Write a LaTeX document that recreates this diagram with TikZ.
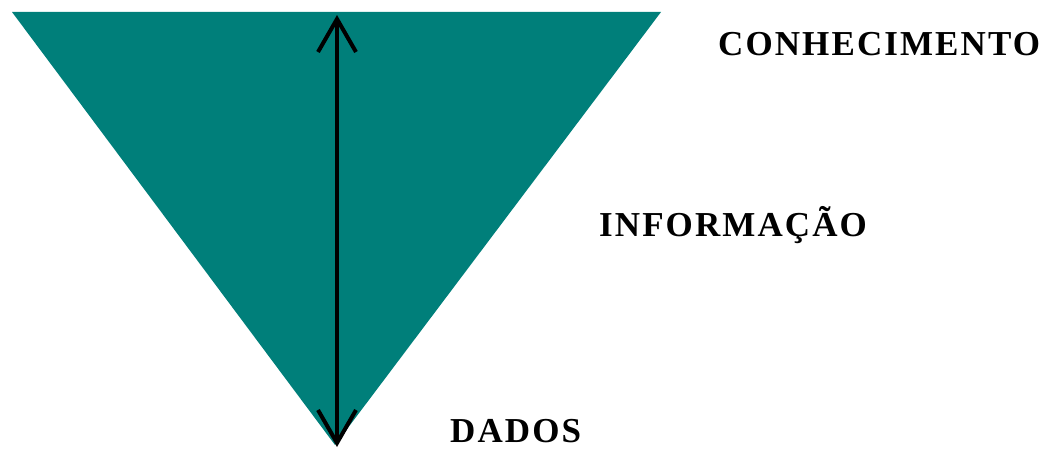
\documentclass[tikz,border=0pt]{standalone}
\usepackage{fontspec}
\setmainfont{Liberation Serif}
\newfontfamily\labelfont[LetterSpace=6]{Liberation Serif}
\usetikzlibrary{arrows.meta}
\definecolor{petrol}{RGB}{0,127,122}
\tikzset{
  nivel/.style={anchor=base west, inner sep=0pt, font=\labelfont\bfseries\fontsize{35}{35}\selectfont},
}
\begin{document}
\begin{tikzpicture}[x=1pt, y=1pt, line join=round, >={Straight Barb[length=33pt,width=38pt]}]
	\useasboundingbox (0,0) rectangle (1054,450);
	% triangulo invertido
	\fill[petrol] (12,438)--(661,438)--(335,5)--cycle;
	\coordinate (topo) at (337,435);
	\coordinate (base) at (337,3);
	\draw[<->, line width=4pt] (topo)--(base);
	% niveis
	\node[nivel] (conhecimento) at (718,394) {CONHECIMENTO};
	\node[nivel] (informacao) at (599,213) {INFORMAÇÃO};
	\node[nivel] (dados) at (450,8) {DADOS};
\end{tikzpicture}
\end{document}
